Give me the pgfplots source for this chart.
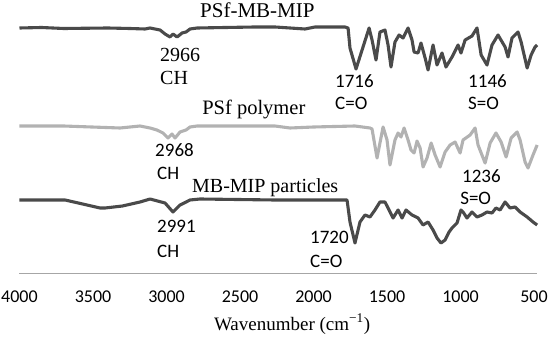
\documentclass[border=0pt]{standalone}
\usepackage{fontspec}
\setmainfont{Liberation Serif}
\newfontfamily\calfont{Carlito}
\usepackage{pgfplots}
\pgfplotsset{compat=1.18}
\definecolor{darkline}{HTML}{4A4A4A}
\definecolor{lightline}{HTML}{B2B2B2}
\definecolor{axgray}{HTML}{A6A6A6}
\begin{document}
\begin{tikzpicture}
\useasboundingbox (-19.5bp,-64bp) rectangle (530.5bp,273bp);
\begin{axis}[
  width=517.5bp, height=273bp, scale only axis,
  x dir=reverse, xmin=480, xmax=4000,
  ymin=-273, ymax=0,
  axis y line=none, axis x line*=bottom,
  x axis line style={axgray, line width=0.8bp, -},
  xtick={500,1000,...,4000},
  major tick length=0pt,
  /pgf/number format/assume math mode=true,
  /pgf/number format/1000 sep={},
  xticklabel style={anchor=base, yshift=-29bp, font=\calfont\fontsize{18bp}{20bp}\selectfont},
  clip=false,
]
% PSf-MB-MIP
\addplot[darkline, line width=3.1bp, line join=round, no markers] coordinates {
(4000,-28) (3850,-27.5) (3700,-28.5) (3400,-28) (3250,-28.5) (3146,-29) (3112,-28)
(3044,-30) (3010,-34) (2976,-37) (2956,-34) (2928,-37) (2894,-33) (2867,-32) (2840,-29)
(2792,-28) (2600,-27.5) (2400,-27) (2262,-27) (2058,-29) (1990,-27) (1786,-27) (1765,-28)
(1752,-48) (1711,-69) (1622,-28) (1602,-40) (1575,-60) (1548,-32) (1514,-30) (1493,-45)
(1473,-67) (1446,-42) (1418,-35) (1391,-38) (1357,-28) (1330,-40) (1316,-52) (1289,-53)
(1269,-43) (1241,-58) (1221,-70) (1187,-45) (1160,-65) (1126,-53) (1099,-67) (1058,-57)
(1017,-45) (997,-53) (969,-40) (922,-36) (888,-28) (860,-55) (820,-65) (786,-45) (745,-35)
(697,-47) (677,-57) (650,-38) (609,-32) (588,-42) (547,-68) (520,-55) (493,-47) (479,-45)
};
% PSf polymer
\addplot[lightline, line width=3.1bp, line join=round, no markers] coordinates {
(4000,-126) (3700,-126) (3316,-128) (3180,-126) (3112,-128) (3065,-130) (3024,-133)
(2990,-138) (2963,-134) (2942,-138) (2908,-132) (2867,-130) (2840,-127) (2792,-126)
(2262,-126) (2160,-128) (2000,-127) (1718,-126) (1616,-128) (1602,-129) (1568,-158)
(1527,-127) (1500,-140) (1480,-165) (1446,-140) (1425,-133) (1405,-137) (1384,-128)
(1357,-140) (1337,-150) (1316,-153) (1296,-141) (1275,-148) (1255,-167) (1228,-158)
(1200,-143) (1173,-155) (1139,-167) (1105,-152) (1071,-145) (1037,-142) (1003,-153)
(983,-140) (935,-135) (901,-128) (881,-145) (833,-163) (799,-143) (759,-133) (724,-142)
(690,-157) (656,-138) (615,-132) (595,-140) (561,-162) (541,-168) (507,-155) (479,-145)
};
% MB-MIP particles
\addplot[darkline, line width=3.1bp, line join=round, no markers] coordinates {
(4000,-200) (3690,-200) (3600,-203) (3452,-208) (3418,-208) (3300,-206) (3180,-202)
(3112,-199) (3010,-203) (2956,-212) (2908,-205) (2840,-200) (2772,-199) (2262,-200)
(1772,-200) (1752,-222) (1718,-243) (1684,-222) (1650,-215) (1616,-217) (1582,-210)
(1548,-202) (1514,-202) (1493,-208) (1459,-218) (1425,-210) (1398,-218) (1371,-210)
(1330,-215) (1289,-218) (1255,-225) (1221,-222) (1187,-230) (1160,-238) (1133,-243)
(1105,-240) (1078,-232) (1058,-228) (1024,-223) (997,-210) (983,-212) (956,-218)
(922,-212) (888,-217) (854,-215) (820,-212) (786,-213) (759,-208) (731,-210) (697,-202)
(663,-208) (629,-207) (595,-212) (547,-217) (507,-222) (479,-225)
};
% labels
\node[anchor=base west, inner sep=0, font=\fontsize{21bp}{23bp}\selectfont] at (axis cs:2772,-18) {PSf-MB-MIP};
\node[anchor=base west, inner sep=0, font=\fontsize{20.5bp}{23bp}\selectfont] at (axis cs:2758,-115) {PSf polymer};
\node[anchor=base west, inner sep=0, font=\fontsize{20bp}{23bp}\selectfont] at (axis cs:2827,-193) {MB-MIP particles};
\node[anchor=base west, inner sep=0, font=\fontsize{20bp}{23bp}\selectfont] at (axis cs:3044,-62) {2966};
\node[anchor=base west, inner sep=0, font=\fontsize{20bp}{23bp}\selectfont] at (axis cs:3044,-85) {CH};
\node[anchor=base west, inner sep=0, font=\calfont\fontsize{19bp}{21bp}\selectfont] at (axis cs:3078,-157) {2968};
\node[anchor=base west, inner sep=0, font=\calfont\fontsize{19bp}{21bp}\selectfont] at (axis cs:3065,-180) {CH};
\node[anchor=base west, inner sep=0, font=\calfont\fontsize{19bp}{21bp}\selectfont] at (axis cs:3065,-233) {2991};
\node[anchor=base west, inner sep=0, font=\calfont\fontsize{19bp}{21bp}\selectfont] at (axis cs:3065,-257) {CH};
\node[anchor=base west, inner sep=0, font=\calfont\fontsize{19bp}{21bp}\selectfont] at (axis cs:1854,-88) {1716};
\node[anchor=base west, inner sep=0, font=\calfont\fontsize{19bp}{21bp}\selectfont] at (axis cs:1854,-110) {C=O};
\node[anchor=base west, inner sep=0, font=\calfont\fontsize{19bp}{21bp}\selectfont] at (axis cs:949,-88) {1146};
\node[anchor=base west, inner sep=0, font=\calfont\fontsize{19bp}{21bp}\selectfont] at (axis cs:949,-110) {S=O};
\node[anchor=base west, inner sep=0, font=\calfont\fontsize{19bp}{21bp}\selectfont] at (axis cs:990,-183) {1236};
\node[anchor=base west, inner sep=0, font=\calfont\fontsize{19bp}{21bp}\selectfont] at (axis cs:1003,-205) {S=O};
\node[anchor=base west, inner sep=0, font=\calfont\fontsize{19bp}{21bp}\selectfont] at (axis cs:2024,-243) {1720};
\node[anchor=base west, inner sep=0, font=\calfont\fontsize{19bp}{21bp}\selectfont] at (axis cs:2024,-267) {C=O};
\node[anchor=base, inner sep=0, font=\fontsize{19bp}{21bp}\selectfont] at (axis cs:2146,-330) {Wavenumber (cm\textsuperscript{\char"2212 1})};
\end{axis}
\end{tikzpicture}
\end{document}
